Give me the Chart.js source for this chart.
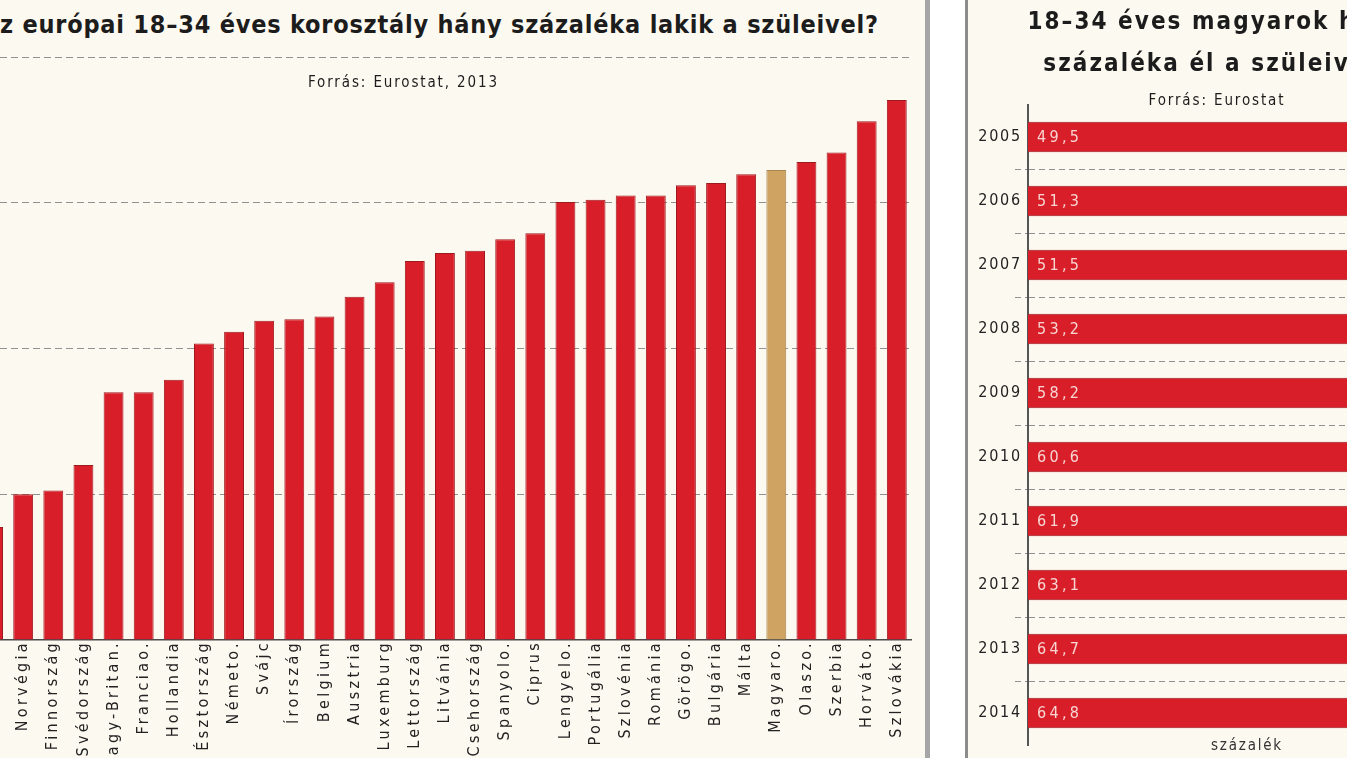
<!DOCTYPE html>
<html>
<head>
<meta charset="UTF-8">
<title>18–34 évesek a szüleikkel</title>
<script src="https://cdn.jsdelivr.net/npm/chart.js@4.4.1/dist/chart.umd.min.js"></script>
<style>
  body { margin: 0; width: 1347px; height: 758px; overflow: hidden; background: #fff; position: relative;
         font-family: "DejaVu Sans Condensed", "DejaVu Sans", sans-serif; color: #1c1c1c; }
  #left { position: absolute; left: 0; top: 0; width: 925px; height: 758px; background: #fcf9f0; overflow: hidden; }
  #sep1 { position: absolute; left: 925px; top: 0; width: 5px; height: 758px; background: #a6a6a6; }
  #sep2 { position: absolute; left: 965px; top: 0; width: 3px; height: 758px; background: #8c8c8c; }
  #right { position: absolute; left: 968px; top: 0; width: 498px; height: 758px; background: #fcf9f0; }
  .txt { position: absolute; white-space: nowrap; }
  #eu-title { top: 11px; font-weight: bold; font-size: 25px; line-height: 27px; }
  #eu-src { top: 74px; left: 308px; font-size: 15px; line-height: 17px; }
  #hu-title { top: 0; left: 0; width: 498px; text-align: center; font-weight: bold; font-size: 24px; line-height: 42px; }
  #hu-src { top: 92px; left: 0; width: 498px; text-align: center; font-size: 15px; line-height: 17px; }
  #eu-chart { position: absolute; left: -22px; top: 57px; }
  #hu-chart { position: absolute; left: 0; top: 0; }
</style>
</head>
<body>
  <div id="left">
    <canvas id="eu-chart" width="938" height="701"></canvas>
    <div class="txt" id="eu-title">Az európai 18–34 éves korosztály hány százaléka lakik a szüleivel?</div>
    <div class="txt" id="eu-src">Forrás: Eurostat, 2013</div>
  </div>
  <div id="sep1"></div>
  <div id="sep2"></div>
  <div id="right">
    <canvas id="hu-chart" width="498" height="758"></canvas>
    <div class="txt" id="hu-title">18–34 éves magyarok hány<br>százaléka él a szüleivel?</div>
    <div class="txt" id="hu-src">Forrás: Eurostat</div>
  </div>

<script>
// --- data ---
const countries = ["Dánia", "Norvégia", "Finnország", "Svédország", "Nagy-Britan.", "Franciao.", "Hollandia",
  "Észtország", "Németo.", "Svájc", "Írország", "Belgium", "Ausztria", "Luxemburg", "Lettország", "Litvánia",
  "Csehország", "Spanyolo.", "Ciprus", "Lengyelo.", "Portugália", "Szlovénia", "Románia", "Görögo.",
  "Bulgária", "Málta", "Magyaro.", "Olaszo.", "Szerbia", "Horváto.", "Szlovákia"];
const shares2013 = [15.5, 20.0, 20.5, 24.0, 34.0, 34.0, 35.7, 40.7, 42.3, 43.8, 44.0, 44.4, 47.1, 49.1, 52.0, 53.1,
  53.4, 55.0, 55.8, 60.1, 60.4, 61.0, 61.0, 62.4, 62.7, 63.9, 64.5, 65.6, 66.9, 71.2, 74.1];
const highlight = "Magyaro.";

const years = ["2005", "2006", "2007", "2008", "2009", "2010", "2011", "2012", "2013", "2014"];
const huShares = [49.5, 51.3, 51.5, 53.2, 58.2, 60.6, 61.9, 63.1, 64.7, 64.8];

const RED = "#d81f29", RED_EDGE = "#9f1a1f", TAN = "#cfa462", TAN_EDGE = "#a8854f";
const GRID = "#919191";
const FAMILY = '"DejaVu Sans Condensed", "DejaVu Sans", sans-serif';

// --- widen the type to the width it takes in the print ---
const meas = document.createElement("canvas").getContext("2d");
function spacing(font, text, target) {
  meas.font = font;
  return Math.max(0, (target - meas.measureText(text).width) / (text.length - 1));
}
const euFont = "bold 25px " + FAMILY;
const euTitle = document.getElementById("eu-title");
const s1 = spacing(euFont, euTitle.textContent.slice(1), 878);
meas.font = euFont;
euTitle.style.letterSpacing = s1 + "px";
euTitle.style.left = -(meas.measureText("A").width + s1) + "px";

const src1 = document.getElementById("eu-src");
src1.style.letterSpacing = spacing("15px " + FAMILY, src1.textContent, 189) + "px";

const huTitle = document.getElementById("hu-title");
huTitle.style.letterSpacing = spacing("bold 24px " + FAMILY, "18–34 éves magyarok", 300) + "px";
const src2 = document.getElementById("hu-src");
src2.style.letterSpacing = spacing("15px " + FAMILY, src2.textContent, 135) + "px";

// --- charts ---
const tickFont = { family: FAMILY, size: 16 };
const tickCss = "16px " + FAMILY;
const euSpacing = spacing(tickCss, "Norvégia", 88);
const yearSpacing = spacing(tickCss, "2005", 42);
const valueSpacing = spacing(tickCss, "49,5", 42);
const letterSpacing = px => ({ id: "spacing", beforeDraw(c) { c.ctx.letterSpacing = px + "px"; } });
const hidden = "rgba(0,0,0,0)";

new Chart(document.getElementById("eu-chart"), {
  type: "bar",
  data: {
    labels: countries,
    datasets: [{
      data: shares2013,
      backgroundColor: countries.map(c => c == highlight ? TAN : RED),
      borderColor: countries.map(c => c == highlight ? TAN_EDGE : RED_EDGE),
      borderWidth: 1,
      barPercentage: 0.66,
      categoryPercentage: 1
    }]
  },
  options: {
    responsive: false,
    animation: false,
    layout: { padding: 0 },
    plugins: { legend: { display: false }, tooltip: { enabled: false } },
    scales: {
      x: {
        grid: { display: false, drawTicks: false },
        border: { display: true, color: "#4a4a4a", width: 1.5 },
        ticks: { autoSkip: false, minRotation: 90, maxRotation: 90, padding: 0, color: "#222", font: tickFont },
        afterFit: s => { s.height = 118; }
      },
      y: {
        min: 0, max: 80,
        ticks: { display: false, stepSize: 20 },
        grid: { drawTicks: false, lineWidth: 1, color: c => c.tick && c.tick.value === 0 ? hidden : GRID },
        border: { display: false, dash: [7, 4] },
        afterFit: s => { s.width = 0; }
      }
    }
  },
  plugins: [letterSpacing(euSpacing)]
});

const barValues = {
  id: "barValues",
  afterDatasetsDraw(chart) {
    const ctx = chart.ctx;
    ctx.save();
    ctx.font = tickCss;
    ctx.letterSpacing = valueSpacing + "px";
    ctx.fillStyle = "#f7d5d2";
    ctx.textBaseline = "middle";
    chart.getDatasetMeta(0).data.forEach((bar, i) => {
      ctx.fillText(huShares[i].toFixed(1).replace(".", ","), bar.base + 9, bar.y + 1);
    });
    ctx.restore();
  }
};

new Chart(document.getElementById("hu-chart"), {
  type: "bar",
  data: {
    labels: years,
    datasets: [{
      data: huShares,
      backgroundColor: RED,
      borderColor: RED_EDGE,
      borderWidth: 1,
      barPercentage: 0.48,
      categoryPercentage: 1
    }]
  },
  options: {
    indexAxis: "y",
    responsive: false,
    animation: false,
    layout: { padding: { top: 105, right: 0, left: 0, bottom: 0 } },
    plugins: { legend: { display: false }, tooltip: { enabled: false } },
    scales: {
      x: {
        min: 0, max: 65,
        ticks: { display: false },
        grid: { display: false },
        border: { display: false },
        title: { display: true, text: "százalék", color: "#333", padding: { top: 0, bottom: 3 },
                 font: { family: FAMILY, size: 15 } },
        afterFit: s => { s.height = 13; }
      },
      y: {
        border: { display: true, color: "#555", width: 2, dash: [6, 4] },
        grid: {
          lineWidth: 1, tickLength: 13, tickBorderDash: [6, 4],
          color: c => (c.type !== "tick" || c.index === 0) ? hidden : GRID
        },
        ticks: { color: "#222", font: tickFont, padding: -7 },
        afterFit: s => { s.width = 60; }
      }
    }
  },
  plugins: [letterSpacing(yearSpacing), barValues]
});
</script>
</body>
</html>
